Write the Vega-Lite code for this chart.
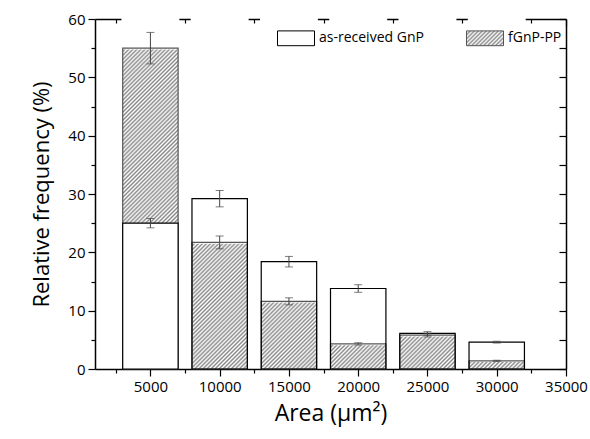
{
  "$schema": "https://vega.github.io/schema/vega-lite/v6.json",
  "width": 471,
  "height": 350,
  "autosize": "none",
  "padding": {"left": 95, "top": 19, "right": 24, "bottom": 70},
  "background": "white",
  "config": {
    "view": {"stroke": null},
    "font": "Open Sans",
    "axis": {"grid": false, "zindex": 1, "domainColor": "#000000", "domainWidth": 1.5, "tickColor": "#000000", "tickWidth": 1.2, "labelColor": "#000000", "titleColor": "#000000", "titleFontWeight": "normal"}
  },
  "data": {
    "values": [
      {"area": 5000, "start": 3000, "end": 7000, "recv": 25.0, "recv_err": 0.8, "fgnp": 55.0, "fgnp_err": 2.7},
      {"area": 10000, "start": 8000, "end": 12000, "recv": 29.2, "recv_err": 1.4, "fgnp": 21.7, "fgnp_err": 1.1},
      {"area": 15000, "start": 13000, "end": 17000, "recv": 18.4, "recv_err": 0.9, "fgnp": 11.6, "fgnp_err": 0.6},
      {"area": 20000, "start": 18000, "end": 22000, "recv": 13.8, "recv_err": 0.65, "fgnp": 4.3, "fgnp_err": 0.2},
      {"area": 25000, "start": 23000, "end": 27000, "recv": 6.1, "recv_err": 0.3, "fgnp": 5.8, "fgnp_err": 0.3},
      {"area": 30000, "start": 28000, "end": 32000, "recv": 4.6, "recv_err": 0.15, "fgnp": 1.4, "fgnp_err": 0.1}
    ]
  },
  "layer": [
    {
      "mark": {"type": "bar", "strokeWidth": 0, "fill": {"gradient": "linear", "x1": 0, "y1": 0, "x2": 0.1789, "y2": 1.13, "stops": [
        {"offset":0,"color":"#888"},{"offset":0.005,"color":"#fff"},{"offset":0.01,"color":"#888"},{"offset":0.015,"color":"#fff"},{"offset":0.02,"color":"#888"},{"offset":0.025,"color":"#fff"},{"offset":0.03,"color":"#888"},{"offset":0.035,"color":"#fff"},{"offset":0.04,"color":"#888"},{"offset":0.045,"color":"#fff"},
        {"offset":0.05,"color":"#888"},{"offset":0.055,"color":"#fff"},{"offset":0.06,"color":"#888"},{"offset":0.065,"color":"#fff"},{"offset":0.07,"color":"#888"},{"offset":0.075,"color":"#fff"},{"offset":0.08,"color":"#888"},{"offset":0.085,"color":"#fff"},{"offset":0.09,"color":"#888"},{"offset":0.095,"color":"#fff"},
        {"offset":0.1,"color":"#888"},{"offset":0.105,"color":"#fff"},{"offset":0.11,"color":"#888"},{"offset":0.115,"color":"#fff"},{"offset":0.12,"color":"#888"},{"offset":0.125,"color":"#fff"},{"offset":0.13,"color":"#888"},{"offset":0.135,"color":"#fff"},{"offset":0.14,"color":"#888"},{"offset":0.145,"color":"#fff"},
        {"offset":0.15,"color":"#888"},{"offset":0.155,"color":"#fff"},{"offset":0.16,"color":"#888"},{"offset":0.165,"color":"#fff"},{"offset":0.17,"color":"#888"},{"offset":0.175,"color":"#fff"},{"offset":0.18,"color":"#888"},{"offset":0.185,"color":"#fff"},{"offset":0.19,"color":"#888"},{"offset":0.195,"color":"#fff"},
        {"offset":0.2,"color":"#888"},{"offset":0.205,"color":"#fff"},{"offset":0.21,"color":"#888"},{"offset":0.215,"color":"#fff"},{"offset":0.22,"color":"#888"},{"offset":0.225,"color":"#fff"},{"offset":0.23,"color":"#888"},{"offset":0.235,"color":"#fff"},{"offset":0.24,"color":"#888"},{"offset":0.245,"color":"#fff"},
        {"offset":0.25,"color":"#888"},{"offset":0.255,"color":"#fff"},{"offset":0.26,"color":"#888"},{"offset":0.265,"color":"#fff"},{"offset":0.27,"color":"#888"},{"offset":0.275,"color":"#fff"},{"offset":0.28,"color":"#888"},{"offset":0.285,"color":"#fff"},{"offset":0.29,"color":"#888"},{"offset":0.295,"color":"#fff"},
        {"offset":0.3,"color":"#888"},{"offset":0.305,"color":"#fff"},{"offset":0.31,"color":"#888"},{"offset":0.315,"color":"#fff"},{"offset":0.32,"color":"#888"},{"offset":0.325,"color":"#fff"},{"offset":0.33,"color":"#888"},{"offset":0.335,"color":"#fff"},{"offset":0.34,"color":"#888"},{"offset":0.345,"color":"#fff"},
        {"offset":0.35,"color":"#888"},{"offset":0.355,"color":"#fff"},{"offset":0.36,"color":"#888"},{"offset":0.365,"color":"#fff"},{"offset":0.37,"color":"#888"},{"offset":0.375,"color":"#fff"},{"offset":0.38,"color":"#888"},{"offset":0.385,"color":"#fff"},{"offset":0.39,"color":"#888"},{"offset":0.395,"color":"#fff"},
        {"offset":0.4,"color":"#888"},{"offset":0.405,"color":"#fff"},{"offset":0.41,"color":"#888"},{"offset":0.415,"color":"#fff"},{"offset":0.42,"color":"#888"},{"offset":0.425,"color":"#fff"},{"offset":0.43,"color":"#888"},{"offset":0.435,"color":"#fff"},{"offset":0.44,"color":"#888"},{"offset":0.445,"color":"#fff"},
        {"offset":0.45,"color":"#888"},{"offset":0.455,"color":"#fff"},{"offset":0.46,"color":"#888"},{"offset":0.465,"color":"#fff"},{"offset":0.47,"color":"#888"},{"offset":0.475,"color":"#fff"},{"offset":0.48,"color":"#888"},{"offset":0.485,"color":"#fff"},{"offset":0.49,"color":"#888"},{"offset":0.495,"color":"#fff"},
        {"offset":0.5,"color":"#888"},{"offset":0.505,"color":"#fff"},{"offset":0.51,"color":"#888"},{"offset":0.515,"color":"#fff"},{"offset":0.52,"color":"#888"},{"offset":0.525,"color":"#fff"},{"offset":0.53,"color":"#888"},{"offset":0.535,"color":"#fff"},{"offset":0.54,"color":"#888"},{"offset":0.545,"color":"#fff"},
        {"offset":0.55,"color":"#888"},{"offset":0.555,"color":"#fff"},{"offset":0.56,"color":"#888"},{"offset":0.565,"color":"#fff"},{"offset":0.57,"color":"#888"},{"offset":0.575,"color":"#fff"},{"offset":0.58,"color":"#888"},{"offset":0.585,"color":"#fff"},{"offset":0.59,"color":"#888"},{"offset":0.595,"color":"#fff"},
        {"offset":0.6,"color":"#888"},{"offset":0.605,"color":"#fff"},{"offset":0.61,"color":"#888"},{"offset":0.615,"color":"#fff"},{"offset":0.62,"color":"#888"},{"offset":0.625,"color":"#fff"},{"offset":0.63,"color":"#888"},{"offset":0.635,"color":"#fff"},{"offset":0.64,"color":"#888"},{"offset":0.645,"color":"#fff"},
        {"offset":0.65,"color":"#888"},{"offset":0.655,"color":"#fff"},{"offset":0.66,"color":"#888"},{"offset":0.665,"color":"#fff"},{"offset":0.67,"color":"#888"},{"offset":0.675,"color":"#fff"},{"offset":0.68,"color":"#888"},{"offset":0.685,"color":"#fff"},{"offset":0.69,"color":"#888"},{"offset":0.695,"color":"#fff"},
        {"offset":0.7,"color":"#888"},{"offset":0.705,"color":"#fff"},{"offset":0.71,"color":"#888"},{"offset":0.715,"color":"#fff"},{"offset":0.72,"color":"#888"},{"offset":0.725,"color":"#fff"},{"offset":0.73,"color":"#888"},{"offset":0.735,"color":"#fff"},{"offset":0.74,"color":"#888"},{"offset":0.745,"color":"#fff"},
        {"offset":0.75,"color":"#888"},{"offset":0.755,"color":"#fff"},{"offset":0.76,"color":"#888"},{"offset":0.765,"color":"#fff"},{"offset":0.77,"color":"#888"},{"offset":0.775,"color":"#fff"},{"offset":0.78,"color":"#888"},{"offset":0.785,"color":"#fff"},{"offset":0.79,"color":"#888"},{"offset":0.795,"color":"#fff"},
        {"offset":0.8,"color":"#888"},{"offset":0.805,"color":"#fff"},{"offset":0.81,"color":"#888"},{"offset":0.815,"color":"#fff"},{"offset":0.82,"color":"#888"},{"offset":0.825,"color":"#fff"},{"offset":0.83,"color":"#888"},{"offset":0.835,"color":"#fff"},{"offset":0.84,"color":"#888"},{"offset":0.845,"color":"#fff"},
        {"offset":0.85,"color":"#888"},{"offset":0.855,"color":"#fff"},{"offset":0.86,"color":"#888"},{"offset":0.865,"color":"#fff"},{"offset":0.87,"color":"#888"},{"offset":0.875,"color":"#fff"},{"offset":0.88,"color":"#888"},{"offset":0.885,"color":"#fff"},{"offset":0.89,"color":"#888"},{"offset":0.895,"color":"#fff"},
        {"offset":0.9,"color":"#888"},{"offset":0.905,"color":"#fff"},{"offset":0.91,"color":"#888"},{"offset":0.915,"color":"#fff"},{"offset":0.92,"color":"#888"},{"offset":0.925,"color":"#fff"},{"offset":0.93,"color":"#888"},{"offset":0.935,"color":"#fff"},{"offset":0.94,"color":"#888"},{"offset":0.945,"color":"#fff"},
        {"offset":0.95,"color":"#888"},{"offset":0.955,"color":"#fff"},{"offset":0.96,"color":"#888"},{"offset":0.965,"color":"#fff"},{"offset":0.97,"color":"#888"},{"offset":0.975,"color":"#fff"},{"offset":0.98,"color":"#888"},{"offset":0.985,"color":"#fff"},{"offset":0.99,"color":"#888"},{"offset":0.995,"color":"#fff"},
        {"offset":1,"color":"#888"}
      ]}},
      "encoding": {
        "x": {
          "field": "start", "type": "quantitative",
          "scale": {"domain": [1000, 35000], "nice": false, "zero": false},
          "axis": {
            "orient": "bottom",
            "values": [2500, 5000, 7500, 10000, 12500, 15000, 17500, 20000, 22500, 25000, 27500, 30000, 32500, 35000],
            "format": "d",
            "labelExpr": "datum.value % 5000 === 0 ? datum.label : ''",
            "tickSize": {"condition": {"test": "datum.value % 5000 === 0", "value": 7}, "value": 4},
            "labelFontSize": 15,
            "labelPadding": 3,
            "labelFlush": false,
            "title": "Area (μm²)",
            "titleFontSize": 23,
            "titlePadding": 8
          }
        },
        "x2": {"field": "end"},
        "y": {
          "datum": 60, "type": "quantitative",
          "scale": {"domain": [0, 60], "nice": false},
          "axis": {
            "orient": "left",
            "values": [0, 5, 10, 15, 20, 25, 30, 35, 40, 45, 50, 55, 60],
            "labelExpr": "datum.value % 10 === 0 ? datum.label : ''",
            "tickSize": {"condition": {"test": "datum.value % 10 === 0", "value": 7}, "value": 4},
            "labelFontSize": 15,
            "labelPadding": 3,
            "labelFlush": false,
            "title": "Relative frequency (%)",
            "titleFontSize": 22,
            "titlePadding": 14
          }
        },
        "y2": {"datum": 0}
      }
    },
    {
      "mark": {"type": "bar", "fill": "#ffffff", "stroke": "#ffffff", "strokeWidth": 2.5},
      "encoding": {
        "x": {"field": "start", "type": "quantitative", "scale": {"domain": [1000, 35000], "nice": false, "zero": false}, "axis": null},
        "x2": {"field": "end"},
        "y": {"field": "fgnp", "type": "quantitative", "scale": {"domain": [0, 60], "nice": false}, "axis": null},
        "y2": {"datum": 60}
      }
    },
    {
      "mark": {"type": "bar", "fill": "#ffffff", "fillOpacity": 0, "stroke": "#555555", "strokeWidth": 1.2},
      "encoding": {
        "x": {"field": "start", "type": "quantitative", "scale": {"domain": [1000, 35000], "nice": false, "zero": false}, "axis": null},
        "x2": {"field": "end"},
        "y": {"field": "fgnp", "type": "quantitative", "scale": {"domain": [0, 60], "nice": false}, "axis": null},
        "y2": {"datum": 0}
      }
    },
    {
      "mark": {"type": "bar", "fill": "#ffffff", "stroke": "#000000", "strokeWidth": 1.2},
      "encoding": {
        "x": {"field": "start", "type": "quantitative", "scale": {"domain": [1000, 35000], "nice": false, "zero": false}, "axis": null},
        "x2": {"field": "end"},
        "y": {"field": "recv", "type": "quantitative", "scale": {"domain": [0, 60], "nice": false}, "axis": null},
        "y2": {"datum": 0},
        "fillOpacity": {"condition": {"test": "datum.recv < datum.fgnp", "value": 1}, "value": 0}
      }
    },
    {
      "mark": {"type": "errorbar", "color": "#444444", "ticks": {"size": 8, "thickness": 1, "color": "#444444"}, "rule": {"strokeWidth": 1}},
      "encoding": {
        "x": {"field": "area", "type": "quantitative", "scale": {"domain": [1000, 35000], "nice": false, "zero": false}, "axis": null},
        "y": {"field": "fgnp", "type": "quantitative", "scale": {"domain": [0, 60], "nice": false}, "axis": null},
        "yError": {"field": "fgnp_err"}
      }
    },
    {
      "mark": {"type": "errorbar", "color": "#444444", "ticks": {"size": 8, "thickness": 1, "color": "#444444"}, "rule": {"strokeWidth": 1}},
      "encoding": {
        "x": {"field": "area", "type": "quantitative", "scale": {"domain": [1000, 35000], "nice": false, "zero": false}, "axis": null},
        "y": {"field": "recv", "type": "quantitative", "scale": {"domain": [0, 60], "nice": false}, "axis": null},
        "yError": {"field": "recv_err"}
      }
    },
    {
      "mark": {
        "type": "point", "size": 0, "filled": true, "strokeWidth": 1,
        "fill": {"expr": "datum.value === 'fGnP-PP' ? {gradient: 'linear', x1: 0, y1: 0, x2: 1.207, y2: 0.4828, stops: [{offset: 0, color: '#888'}, {offset: 0.0385, color: '#fff'}, {offset: 0.0769, color: '#888'}, {offset: 0.1154, color: '#fff'}, {offset: 0.1538, color: '#888'}, {offset: 0.1923, color: '#fff'}, {offset: 0.2308, color: '#888'}, {offset: 0.2692, color: '#fff'}, {offset: 0.3077, color: '#888'}, {offset: 0.3462, color: '#fff'}, {offset: 0.3846, color: '#888'}, {offset: 0.4231, color: '#fff'}, {offset: 0.4615, color: '#888'}, {offset: 0.5, color: '#fff'}, {offset: 0.5385, color: '#888'}, {offset: 0.5769, color: '#fff'}, {offset: 0.6154, color: '#888'}, {offset: 0.6538, color: '#fff'}, {offset: 0.6923, color: '#888'}, {offset: 0.7308, color: '#fff'}, {offset: 0.7692, color: '#888'}, {offset: 0.8077, color: '#fff'}, {offset: 0.8462, color: '#888'}, {offset: 0.8846, color: '#fff'}, {offset: 0.9231, color: '#888'}, {offset: 0.9615, color: '#fff'}, {offset: 1, color: '#888'}]} : '#ffffff'"},
        "stroke": {"expr": "datum.value === 'fGnP-PP' ? '#555555' : '#000000'"}
      },
      "encoding": {
        "x": {
          "field": "area", "type": "quantitative",
          "scale": {"domain": [1000, 35000], "nice": false, "zero": false},
          "axis": {
            "orient": "bottom", "offset": -350, "labels": false, "title": null,
            "values": [2500, 5000, 7500, 10000, 12500, 15000, 17500, 20000, 22500, 25000, 27500, 30000, 32500, 35000],
            "tickSize": {"condition": {"test": "datum.value % 5000 === 0", "value": 7}, "value": 4}
          }
        },
        "y": {
          "field": "recv", "type": "quantitative",
          "scale": {"domain": [0, 60], "nice": false},
          "axis": {
            "orient": "left", "offset": -471, "labels": false, "title": null,
            "values": [0, 5, 10, 15, 20, 25, 30, 35, 40, 45, 50, 55, 60],
            "tickSize": 7
          }
        },
        "shape": {
          "datum": "as-received GnP", "type": "nominal",
          "scale": {"domain": ["as-received GnP", "fGnP-PP"], "range": ["M-1,-0.4H1V0.4H-1Z", "M-1,-0.4H1V0.4H-1Z"]},
          "legend": {
            "orient": "none", "legendX": 182, "legendY": 0,
            "direction": "horizontal", "columns": 2, "columnPadding": 40,
            "title": null,
            "symbolSize": 1369, "symbolStrokeWidth": 1, "symbolOpacity": 1,
            "labelFontSize": 14, "labelColor": "#000000", "labelOffset": 4, "padding": 0
          }
        }
      }
    }
  ],
  "resolve": {"axis": {"x": "independent", "y": "independent"}}
}
